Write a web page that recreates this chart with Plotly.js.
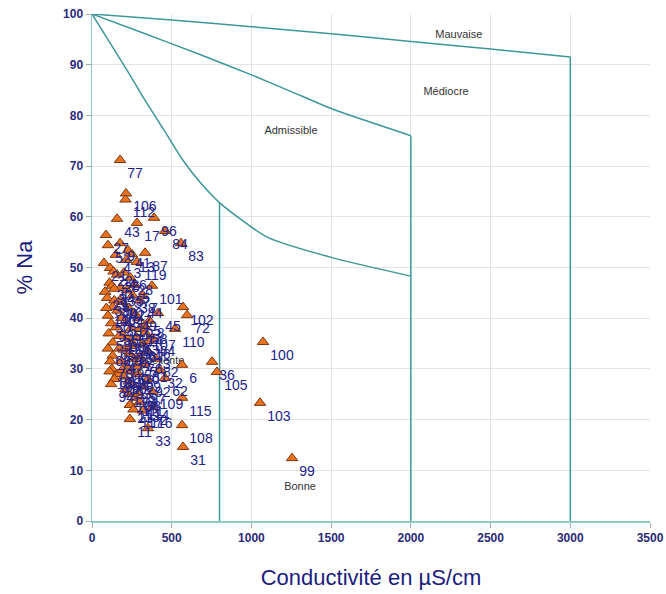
<!DOCTYPE html>
<html>
<head>
<meta charset="utf-8">
<script src="https://cdn.plot.ly/plotly-3.0.1.min.js"></script>
<style>html,body{margin:0;padding:0;background:#fff}#chart{width:666px;height:594px}</style>
</head>
<body>
<div id="chart"></div>
<script>
// Sample data: id, conductivity (µS/cm), % Na
const sampleIds = [77,106,112,43,17,96,84,83,27,52,9,41,13,4,87,119,21,22,24,25,26,28,29,30,34,35,101,37,38,39,40,42,44,46,47,48,49,45,102,72,50,51,53,54,55,56,57,58,110,107,59,60,61,63,64,65,66,67,68,69,70,71,73,74,75,76,78,79,80,81,82,6,36,105,100,32,85,86,88,89,90,91,92,93,94,95,97,98,62,104,109,111,115,103,113,23,114,2,116,117,11,33,108,31,99,118,120,1,3,5,7,8,10,12,14,15,16,18,19,20];
const conductivity = [176,213,210,157,282,389,458,558,88,100,176,226,250,150,333,282,75,113,135,157,200,240,82,110,125,180,376,220,255,95,140,190,300,130,230,160,265,414,571,596,100,185,120,215,290,150,245,330,521,333,105,190,225,280,380,130,255,310,100,170,200,235,350,130,265,300,115,185,215,330,400,565,753,784,1073,427,125,245,160,290,200,140,350,230,120,260,320,290,458,230,380,270,565,1054,240,238,300,380,320,260,238,351,565,571,1255,210,170,140,215,270,320,360,175,90,300,240,350,110,190,280];
const sodiumPct = [71.2,64.6,63.4,59.6,58.8,59.8,57.2,54.8,56.4,54.4,54.8,53.4,52.6,52.5,52.9,51.1,50.9,49.9,49.2,48.6,49.0,48.0,45.2,47.0,46.4,46.0,46.4,45.5,44.5,44.0,43.5,43.2,43.5,42.2,42.0,41.5,41.0,41.0,42.2,40.6,40.5,40.0,39.0,39.0,40.0,38.2,38.0,38.5,37.9,37.2,37.0,36.8,36.0,36.2,36.0,35.2,35.0,34.8,34.0,34.0,33.8,33.0,33.5,32.6,32.0,32.5,31.5,31.5,30.5,31.0,32.0,30.8,31.4,29.4,35.3,29.8,30.0,29.5,29.0,29.0,28.5,28.0,28.0,27.5,27.0,26.8,26.5,25.2,28.2,25.0,25.5,24.3,24.3,23.3,23.0,22.9,23.5,22.5,21.8,22.0,20.1,18.3,18.9,14.6,12.4,26.0,36.5,45.8,51.5,46.5,44.5,39.5,43.5,42.0,38.0,34.5,35.5,29.5,29.8,30.5];

// Wilcox class boundaries (curves, then vertical limits)
const mauvaiseX = [0,500,1000,1500,2000,2500,3000];
const mauvaiseY = [100,98.8,97.5,96.1,94.6,93.1,91.5];
const mediocreX = [0,300,677,1000,1250,1512,2000];
const mediocreY = [100,96.5,92.0,88.0,84.7,81.2,76.0];
const admissX = [0,113,226,332,458,565,678,803,1098,1512,2000];
const admissY = [100,94.3,88.6,83.0,76.8,71.4,66.8,62.7,56.0,51.9,48.3];
const limitX = [800,2000,3000];
const limitTopY = [62.7,76.0,91.5];

const classNames = ["Mauvaise","Médiocre","Admissible","Bonne","Excellente"];
const classX = [2301,2221,1248,1305,420];
const classY = [95.9,84.6,76.9,6.7,31.6];

const lineStyle = {color:'#3d9797', width:1.5, shape:'spline', smoothing:0.6};
const vStyle = {color:'#3d9797', width:1.5};
const traces = [
  {x:mauvaiseX, y:mauvaiseY, mode:'lines', line:lineStyle, hoverinfo:'skip'},
  {x:mediocreX, y:mediocreY, mode:'lines', line:lineStyle, hoverinfo:'skip'},
  {x:admissX, y:admissY, mode:'lines', line:lineStyle, hoverinfo:'skip'}
];
limitX.forEach((lx, i) => {
  traces.push({x:[lx, lx], y:[limitTopY[i], 0], mode:'lines', line:vStyle, hoverinfo:'skip'});
});
traces.push(
  {x:classX, y:classY, mode:'text', text:classNames, textposition:'middle center',
   textfont:{family:'Liberation Sans, Arial, sans-serif', size:11, color:'#333333'}, hoverinfo:'skip'},
  {x:conductivity, y:sodiumPct, mode:'markers+text', text:sampleIds.map(String),
   textposition:'bottom right',
   textfont:{family:'Liberation Sans, Arial, sans-serif', size:14, color:'#22228c'},
   marker:{symbol:'triangle-up', size:10, color:'#e8731f', line:{color:'#7a3510', width:1}}}
);

const tickFont = {family:'Liberation Sans, Arial, sans-serif', size:12, color:'#2a2a7a', weight:'bold'};
const layout = {
  width:666, height:594,
  margin:{l:92, r:16, t:14, b:73},
  paper_bgcolor:'#ffffff', plot_bgcolor:'#ffffff',
  showlegend:false,
  xaxis:{range:[0,3500], dtick:500, tick0:0, showgrid:true, gridcolor:'#e4e4e4', gridwidth:1,
    zeroline:false, showline:true, linecolor:'#8fcaca', linewidth:1.5,
    ticks:'outside', ticklen:5, tickcolor:'#aaaaaa', tickfont:tickFont,
    title:{text:'Conductivité en µS/cm', font:{family:'Liberation Sans, Arial, sans-serif', size:22, color:'#1c1c80'}, standoff:25}},
  yaxis:{range:[0,100], dtick:10, tick0:0, showgrid:true, gridcolor:'#e4e4e4', gridwidth:1,
    zeroline:false, showline:true, linecolor:'#8fcaca', linewidth:1.5,
    ticks:'outside', ticklen:5, tickcolor:'#aaaaaa', tickfont:tickFont,
    title:{text:'% Na', font:{family:'Liberation Sans, Arial, sans-serif', size:22, color:'#1c1c80'}, standoff:24}}
};
Plotly.newPlot('chart', traces, layout, {displayModeBar:false, staticPlot:true});
</script>
</body>
</html>
